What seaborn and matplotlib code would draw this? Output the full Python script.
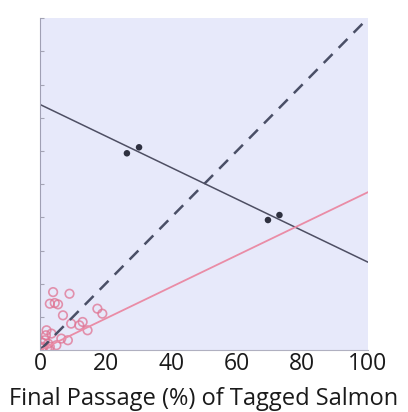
import matplotlib
matplotlib.use("Agg")
import matplotlib.pyplot as plt
import seaborn as sns

sns.set_style("white")
plt.rcParams["font.family"] = ["Open Sans", "DejaVu Sans"]

# Tagged salmon: final passage vs. passage of untagged fish (%)
tagged_x = [26.5, 30.2, 69.5, 73.0]
tagged_y = [59.3, 61.1, 39.2, 40.7]

# Small-river observations clustered near the origin
small_x = [4.0, 9.0, 3.0, 4.5, 5.5, 7.0, 17.5, 19.0, 13.0, 14.5, 12.0, 6.5, 8.5,
           2.0, 3.5, 1.5, 2.5, 1.0, 0.5, 3.0, 1.8, 5.0, 0.8, 2.2, 9.5]
small_y = [17.5, 17.0, 14.0, 14.2, 13.8, 10.5, 12.5, 11.0, 8.5, 6.0, 7.5, 3.5, 3.0,
           6.0, 5.0, 3.0, 2.0, 1.0, 0.5, 1.0, 4.5, 1.5, 2.2, 0.6, 8.0]

# Fitted trend lines (values at x = 0 and x = 100) and the 1:1 line
line_x = [0, 100]
tagged_fit = [74.0, 26.5]
small_fit = [0.0, 47.6]
one_to_one = [0, 100]

xticks = [0, 20, 40, 60, 80, 100]

fig = plt.figure(figsize=(4.08, 4.12), dpi=100)
ax = fig.add_axes([0.098, 0.150, 0.804, 0.806])
ax.set_facecolor("#e7e9fa")

sns.lineplot(x=line_x, y=one_to_one, ax=ax, color="#4a4f66", lw=1.8,
             linestyle=(0, (5, 3.5)))
sns.lineplot(x=line_x, y=tagged_fit, ax=ax, color="#4e4f63", lw=1.1)
sns.lineplot(x=line_x, y=small_fit, ax=ax, color="#ea8ca6", lw=1.3)

sns.scatterplot(x=small_x, y=small_y, ax=ax, marker="o", s=38,
                facecolors="none", edgecolor="#e07392", linewidth=1.2, alpha=0.75)
sns.scatterplot(x=tagged_x, y=tagged_y, ax=ax, color="#2f3140", s=22,
                edgecolor="none")

ax.set_xlim(0, 100)
ax.set_ylim(0, 100)
ax.set_xticks(xticks)
ax.set_xticklabels([str(t) for t in xticks], fontsize=16.5, color="#1a1a1a")
ax.set_yticks(range(0, 101, 10))
ax.set_yticklabels([])
ax.tick_params(axis="x", length=0, pad=1)
ax.tick_params(axis="y", direction="in", length=3, color="#a4a4b4", left=True)
ax.set_xlabel("Final Passage (%) of Tagged Salmon", fontsize=17, color="#1a1a1a",
              labelpad=8)
ax.set_ylabel("")

for side in ("top", "right"):
    ax.spines[side].set_visible(False)
ax.spines["left"].set_color("#a0a0b4")
ax.spines["bottom"].set_color("#b0b0c0")

fig.savefig("out.png", dpi=100, facecolor="white")
